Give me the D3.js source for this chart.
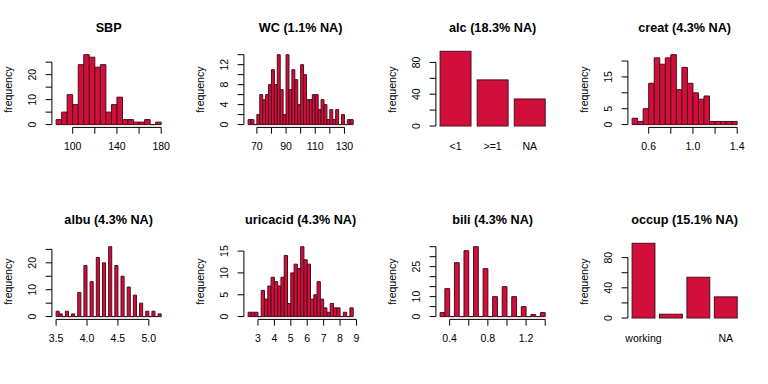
<!DOCTYPE html>
<html><head><meta charset="utf-8">
<script src="https://cdn.jsdelivr.net/npm/d3@7"></script>
<style>html,body{margin:0;padding:0;background:#fff;}svg{display:block;font-family:"Liberation Sans",Arial,sans-serif;}</style>
</head><body>
<script>
// ---------- data ----------
const titles = ["SBP","WC (1.1% NA)","alc (18.3% NA)","creat (4.3% NA)","albu (4.3% NA)","uricacid (4.3% NA)","bili (4.3% NA)","occup (15.1% NA)"];

// histogram bins: first break, bin width, counts
const sbpStart = 85, sbpWidth = 5;
const sbpCounts = [2,5,12,8,24,28,27,23,24,5,8,11,2,2,1,1,2,0,1];
const wcStart = 64, wcWidth = 2;
const wcCounts = [1,1,0,2,6,5,6,8,11,8,14,7,2,14,7,11,9,4,12,10,5,5,6,6,3,5,4,1,3,1,3,0,2,0,1,1];
const creatStart = 0.45, creatWidth = 0.05;
const creatCounts = [2,1,5,13,21,19,21,22,11,18,13,10,8,9,1,1,1,1,1];
const albuStart = 3.5, albuWidth = 0.05;
const albuCounts = [2,1,0,2,0,1,0,9,0,19,0,13,0,22,0,20,0,26,0,19,0,15,0,11,0,8,0,5,0,2,0,2,0,1];
const uricStart = 2.4, uricWidth = 0.2;
const uricCounts = [1,1,1,0,6,4,7,9,8,7,9,14,3,10,12,11,16,13,12,4,5,8,4,2,1,3,2,2,0,1,0,2];
const biliStart = 0.3, biliWidth = 0.05;
const biliCounts = [2,14,0,27,0,33,0,35,0,24,0,10,0,15,0,10,0,5,0,1,0,2];

// bar charts
const alcCategories = ["<1",">=1","NA"];
const alcCounts = [94,58,34];
const occupCategories = ["working","","","NA"];
const occupCounts = [99,5,54,28];

// axis ticks & labels
const sbpXTicks = [100,120,140,160,180], sbpXLabels = ["100","","140","","180"];
const sbpYTicks = [0,5,10,15,20,25], sbpYLabels = ["0","","10","","20",""];
const wcXTicks = [70,80,90,100,110,120,130], wcXLabels = ["70","","90","","110","","130"];
const wcYTicks = [0,2,4,6,8,10,12,14], wcYLabels = ["0","","4","","8","","12",""];
const alcYTicks = [0,20,40,60,80], alcYLabels = ["0","","40","","80"];
const creatXTicks = [0.6,0.8,1.0,1.2,1.4], creatXLabels = ["0.6","","1.0","","1.4"];
const creatYTicks = [0,5,10,15,20], creatYLabels = ["0","5","","15",""];
const albuXTicks = [3.5,4.0,4.5,5.0], albuXLabels = ["3.5","4.0","4.5","5.0"];
const albuYTicks = [0,5,10,15,20,25], albuYLabels = ["0","","10","","20",""];
const uricXTicks = [3,4,5,6,7,8,9], uricXLabels = ["3","4","5","6","7","8","9"];
const uricYTicks = [0,5,10,15], uricYLabels = ["0","5","10","15"];
const biliXTicks = [0.4,0.6,0.8,1.0,1.2,1.4], biliXLabels = ["0.4","","0.8","","1.2",""];
const biliYTicks = [0,5,10,15,20,25,30,35], biliYLabels = ["0","","10","","","25","",""];
const occupYTicks = [0,20,40,60,80], occupYLabels = ["0","","40","","80"];
const yLabelText = "frequency";

// ---------- layout ----------
const W = 768, H = 384, PW = 192, PH = 192;
const RX0 = 51.9, RX1 = 165.4, RY0 = 51.9, RY1 = 127.4;
const FILL = "#D20F3B", STROKE = "#4A0E1C";
const FS = 10.56, FST = 12.67;

const panels = [
  {type:"hist", start:sbpStart, width:sbpWidth, counts:sbpCounts, xt:sbpXTicks, xl:sbpXLabels, yt:sbpYTicks, yl:sbpYLabels},
  {type:"hist", start:wcStart, width:wcWidth, counts:wcCounts, xt:wcXTicks, xl:wcXLabels, yt:wcYTicks, yl:wcYLabels},
  {type:"bar", cats:alcCategories, counts:alcCounts, yt:alcYTicks, yl:alcYLabels},
  {type:"hist", start:creatStart, width:creatWidth, counts:creatCounts, xt:creatXTicks, xl:creatXLabels, yt:creatYTicks, yl:creatYLabels},
  {type:"hist", start:albuStart, width:albuWidth, counts:albuCounts, xt:albuXTicks, xl:albuXLabels, yt:albuYTicks, yl:albuYLabels},
  {type:"hist", start:uricStart, width:uricWidth, counts:uricCounts, xt:uricXTicks, xl:uricXLabels, yt:uricYTicks, yl:uricYLabels},
  {type:"hist", start:biliStart, width:biliWidth, counts:biliCounts, xt:biliXTicks, xl:biliXLabels, yt:biliYTicks, yl:biliYLabels},
  {type:"bar", cats:occupCategories, counts:occupCounts, yt:occupYTicks, yl:occupYLabels}
];

const svg = d3.select("body").append("svg").attr("width", W).attr("height", H);

panels.forEach((p, i) => {
  const col = i % 4, row = Math.floor(i / 4);
  const g = svg.append("g").attr("transform", `translate(${col*PW},${row*PH})`);
  const maxC = d3.max(p.counts);
  let x, y;
  if (p.type === "hist") {
    const lo = p.start, hi = p.start + p.width * p.counts.length;
    const ext = 0.04 * (hi - lo);
    x = d3.scaleLinear().domain([lo - ext, hi + ext]).range([RX0, RX1]);
    y = d3.scaleLinear().domain([-0.04*maxC, 1.04*maxC]).range([RY1, RY0]);
    const bins = p.counts.map((c, k) => ({x0: p.start + k*p.width, x1: p.start + (k+1)*p.width, c}));
    g.selectAll("path.bar").data(bins).enter().append("path")
      .attr("class","bar")
      .attr("d", d => `M${x(d.x0)},${y(0)}V${y(d.c)}H${x(d.x1)}V${y(0)}Z`)
      .attr("fill", FILL).attr("stroke", STROKE).attr("stroke-width", 1);
    // x axis
    const xa = g.append("g").attr("transform", `translate(0,${RY1})`);
    xa.append("line").attr("x1", x(p.xt[0])).attr("x2", x(p.xt[p.xt.length-1]))
      .attr("y1", 0).attr("y2", 0).attr("stroke", "#000");
    p.xt.forEach((t, k) => {
      xa.append("line").attr("x1", x(t)).attr("x2", x(t)).attr("y1", 0).attr("y2", 6.3).attr("stroke", "#000");
      if (p.xl[k]) xa.append("text").attr("x", x(t)).attr("y", 22.5).attr("text-anchor","middle")
        .attr("font-size", FS).attr("fill","#000").text(p.xl[k]);
    });
  } else {
    const n = p.counts.length;
    const bx = p.counts.map((c, k) => ({l: 0.2 + k*1.2, r: 1.2 + k*1.2, c, name: p.cats[k]}));
    const lo = 0.2, hi = bx[n-1].r, ext = 0.04*(hi-lo);
    x = d3.scaleLinear().domain([lo - ext, hi + ext]).range([RX0, RX1]);
    y = d3.scaleLinear().domain([0, maxC]).range([126, 51.3]);
    g.selectAll("rect.bar").data(bx).enter().append("rect")
      .attr("x", d => x(d.l)).attr("width", d => x(d.r) - x(d.l))
      .attr("y", d => y(d.c)).attr("height", d => y(0) - y(d.c))
      .attr("fill", FILL).attr("stroke", STROKE).attr("stroke-width", 1);
    g.selectAll("text.cat").data(bx).enter().append("text")
      .attr("x", d => x((d.l + d.r)/2)).attr("y", RY1 + 22.5).attr("text-anchor","middle")
      .attr("font-size", FS).attr("fill","#000").text(d => d.name);
  }
  // y axis
  const ya = g.append("g").attr("transform", `translate(${RX0},0)`);
  ya.append("line").attr("x1",0).attr("x2",0).attr("y1", y(p.yt[0])).attr("y2", y(p.yt[p.yt.length-1])).attr("stroke","#000");
  p.yt.forEach((t, k) => {
    ya.append("line").attr("x1",0).attr("x2",-6.3).attr("y1", y(t)).attr("y2", y(t)).attr("stroke","#000");
    if (p.yl[k]) ya.append("text").attr("transform", `translate(${-15.9},${y(t)}) rotate(-90)`)
      .attr("text-anchor","middle").attr("font-size", FS).attr("fill","#000").text(p.yl[k]);
  });
  // y label
  g.append("text").attr("transform", `translate(12,${(RY0+RY1)/2}) rotate(-90)`)
    .attr("text-anchor","middle").attr("font-size", FS).attr("fill","#000").text(yLabelText);
  // title
  g.append("text").attr("x", (RX0+RX1)/2).attr("y", 31.7).attr("text-anchor","middle")
    .attr("font-size", FST).attr("font-weight","bold").attr("fill","#000").text(titles[i]);
});
</script>
</body></html>
